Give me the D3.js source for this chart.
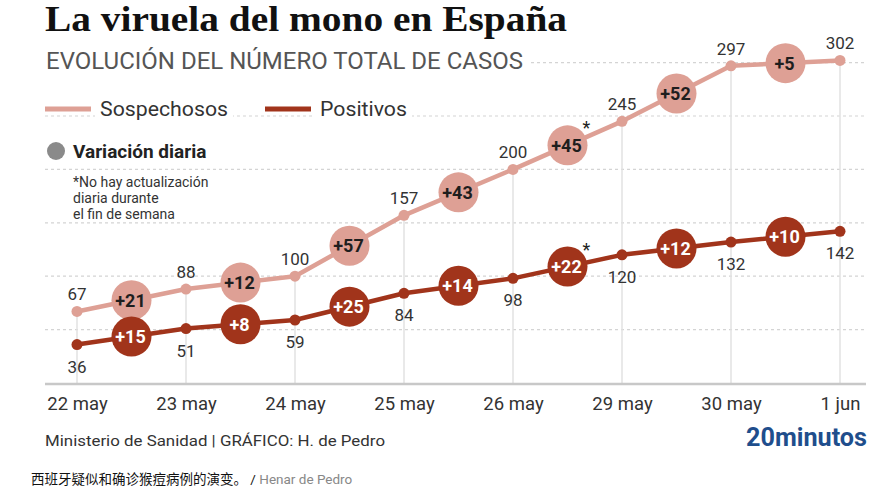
<!DOCTYPE html>
<html>
<head>
<meta charset="utf-8">
<script src="https://cdn.jsdelivr.net/npm/d3@7/dist/d3.min.js"></script>
<style>
  html, body { margin: 0; padding: 0; background: #fff; }
  svg { display: block; }
  text { font-family: Roboto, "Noto Sans", sans-serif; }
</style>
</head>
<body>
<svg id="chart" width="894" height="500"></svg>
<script>
// ---------- data ----------
const dates = ["22 may", "23 may", "24 may", "25 may", "26 may", "29 may", "30 may", "1 jun"];
const sospechosos = [67, 88, 100, 157, 200, 245, 297, 302];
const positivos = [36, 51, 59, 84, 98, 120, 132, 142];
const varSospechosos = ["+21", "+12", "+57", "+43", "+45", "+52", "+5"];
const varPositivos = ["+15", "+8", "+25", "+14", "+22", "+12", "+10"];
const asteriskIndex = [4]; // gap 26 may -> 29 may (weekend)
const gridValues = [50, 100, 150, 200, 250, 300];

// ---------- style ----------
const colS = "#dea095";
const colP = "#a1341b";
const txt = "#333";

const svg = d3.select("#chart");

const x = d3.scalePoint().domain(dates).range([77, 840]);
const y = d3.scaleLinear().domain([0, 300]).range([383, 62.6]);

// horizontal dashed grid
svg.append("g").selectAll("line").data(gridValues).join("line")
  .attr("x1", 45).attr("x2", 866)
  .attr("y1", d => y(d)).attr("y2", d => y(d))
  .attr("stroke", "#d4d4d4").attr("stroke-width", 1.2)
  .attr("stroke-dasharray", "3,3");

// vertical drop lines from sospechosos points
svg.append("g").selectAll("line").data(dates).join("line")
  .attr("x1", d => x(d)).attr("x2", d => x(d))
  .attr("y1", (d, i) => y(sospechosos[i])).attr("y2", y(0))
  .attr("stroke", "#e2e2e2").attr("stroke-width", 1.5);

// x axis
const xAxis = d3.axisBottom(x).tickSize(0).tickPadding(0);
const gx = svg.append("g").attr("transform", `translate(0,${y(0)})`).call(xAxis);
gx.select(".domain").remove();
gx.selectAll("text").attr("dy", 0).attr("y", 27)
  .style("font-size", "18.5px").style("font-family", "Roboto, sans-serif").attr("fill", txt);
svg.append("line").attr("x1", 45).attr("x2", 866).attr("y1", y(0) + 1).attr("y2", y(0) + 1)
  .attr("stroke", "#c8c8c8").attr("stroke-width", 2.5);

// lines
const lineGen = d3.line().x((d, i) => x(dates[i])).y(d => y(d));
svg.append("path").datum(sospechosos).attr("d", lineGen)
  .attr("fill", "none").attr("stroke", colS).attr("stroke-width", 4.5).attr("stroke-linejoin", "round");
svg.append("path").datum(positivos).attr("d", lineGen)
  .attr("fill", "none").attr("stroke", colP).attr("stroke-width", 4.5).attr("stroke-linejoin", "round");

// points
svg.append("g").selectAll("circle").data(sospechosos).join("circle")
  .attr("cx", (d, i) => x(dates[i])).attr("cy", d => y(d)).attr("r", 5.5).attr("fill", colS);
svg.append("g").selectAll("circle").data(positivos).join("circle")
  .attr("cx", (d, i) => x(dates[i])).attr("cy", d => y(d)).attr("r", 5.5).attr("fill", colP);

// value labels
svg.append("g").selectAll("text").data(sospechosos).join("text")
  .attr("x", (d, i) => x(dates[i])).attr("y", d => y(d) - 11)
  .attr("text-anchor", "middle").style("font-size", "17px").attr("fill", txt).text(d => d);
svg.append("g").selectAll("text").data(positivos).join("text")
  .attr("x", (d, i) => x(dates[i])).attr("y", d => y(d) + 28)
  .attr("text-anchor", "middle").style("font-size", "17px").attr("fill", txt).text(d => d);

// variation bubbles
function bubbles(values, labels, fill, textCol) {
  const data = labels.map((l, i) => ({
    label: l,
    cx: (x(dates[i]) + x(dates[i + 1])) / 2,
    cy: (y(values[i]) + y(values[i + 1])) / 2,
    i
  }));
  const g = svg.append("g");
  g.selectAll("circle").data(data).join("circle")
    .attr("cx", d => d.cx).attr("cy", d => d.cy).attr("r", 20).attr("fill", fill);
  g.selectAll("text.v").data(data).join("text").attr("class", "v")
    .attr("x", d => d.cx - 1).attr("y", d => d.cy + 6.5)
    .attr("text-anchor", "middle").style("font-size", "18px").style("font-weight", "bold")
    .attr("fill", textCol).text(d => d.label);
  g.selectAll("text.a").data(data.filter(d => asteriskIndex.includes(d.i))).join("text").attr("class", "a")
    .attr("x", d => d.cx + 19).attr("y", d => d.cy - 11)
    .attr("text-anchor", "middle").style("font-size", "18px").attr("fill", "#222").text("*");
}
bubbles(sospechosos, varSospechosos, colS, "#1e1e1e");
bubbles(positivos, varPositivos, colP, "#fff");

// title & subtitle
svg.append("rect").attr("x", 40).attr("y", 44).attr("width", 490).attr("height", 30).attr("fill", "#fff");
svg.append("text").attr("x", 45).attr("y", 31)
  .attr("textLength", 522).attr("lengthAdjust", "spacingAndGlyphs")
  .style("font-family", "'Liberation Serif', 'DejaVu Serif', serif")
  .style("font-size", "35px").style("font-weight", "bold").attr("fill", "#111")
  .text("La viruela del mono en España");
svg.append("text").attr("x", 46).attr("y", 69)
  .attr("textLength", 477).attr("lengthAdjust", "spacingAndGlyphs")
  .style("font-size", "23px").attr("fill", "#555")
  .text("EVOLUCIÓN DEL NÚMERO TOTAL DE CASOS");

// legend
const legend = [
  { name: "Sospechosos", col: colS, x0: 45, w: 128 },
  { name: "Positivos", col: colP, x0: 265, w: 87 }
];
const lg = svg.append("g");
lg.selectAll("rect").data(legend).join("rect")
  .attr("x", d => d.x0 + 50).attr("y", 96).attr("width", d => d.w + 10).attr("height", 26).attr("fill", "#fff");
lg.selectAll("line").data(legend).join("line")
  .attr("x1", d => d.x0).attr("x2", d => d.x0 + 46).attr("y1", 109).attr("y2", 109)
  .attr("stroke", d => d.col).attr("stroke-width", 5);
lg.selectAll("text").data(legend).join("text")
  .attr("x", d => d.x0 + 55).attr("y", 116)
  .attr("textLength", d => d.w).attr("lengthAdjust", "spacingAndGlyphs")
  .style("font-size", "21px").attr("fill", txt).text(d => d.name);

svg.append("circle").attr("cx", 56).attr("cy", 151).attr("r", 9).attr("fill", "#8a8a8a");
svg.append("text").attr("x", 73).attr("y", 158)
  .style("font-size", "19px").style("font-weight", "bold").attr("fill", "#222").text("Variación diaria");

const note = ["*No hay actualización", "diaria durante", "el fin de semana"];
svg.append("rect").attr("x", 70).attr("y", 172).attr("width", 160).attr("height", 50).attr("fill", "#fff");
svg.append("g").selectAll("text").data(note).join("text")
  .attr("x", 73).attr("y", (d, i) => 187 + i * 16)
  .style("font-size", "14px").attr("fill", txt).text(d => d);

// footer
svg.append("text").attr("x", 45).attr("y", 446)
  .attr("textLength", 340).attr("lengthAdjust", "spacingAndGlyphs")
  .style("font-size", "15px").attr("fill", txt).text("Ministerio de Sanidad  |  GRÁFICO: H. de Pedro");
svg.append("text").attr("x", 867).attr("y", 446).attr("text-anchor", "end")
  .attr("textLength", 121).attr("lengthAdjust", "spacingAndGlyphs")
  .style("font-size", "26px").style("font-weight", "bold").attr("fill", "#1f4e8c")
  .text("20minutos");

const cap = svg.append("text").attr("x", 31).attr("y", 484).style("font-size", "13.5px");
cap.append("tspan").attr("fill", "#111")
  .style("font-family", "'Noto Sans CJK SC', sans-serif").text("西班牙疑似和确诊猴痘病例的演变。");
cap.append("tspan").attr("fill", "#111").text("   /  ");
cap.append("tspan").attr("fill", "#888").text("Henar de Pedro");
</script>
</body>
</html>
